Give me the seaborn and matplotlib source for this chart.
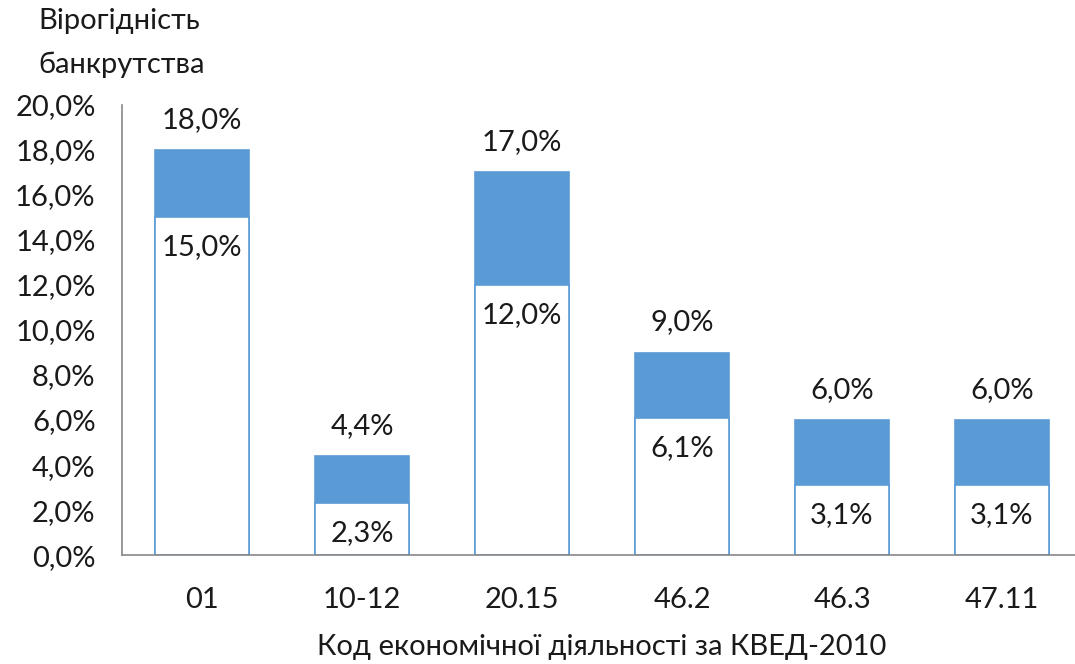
import matplotlib
matplotlib.use("Agg")
import matplotlib.pyplot as plt
import seaborn as sns
import pandas as pd

codes = ["01", "10-12", "20.15", "46.2", "46.3", "47.11"]
upper = [18.0, 4.4, 17.0, 9.0, 6.0, 6.0]
lower = [15.0, 2.3, 12.0, 6.1, 3.1, 3.1]
y_ticks = [0, 2, 4, 6, 8, 10, 12, 14, 16, 18, 20]

df = pd.DataFrame({"code": codes, "upper": upper, "lower": lower})

sns.set_style("white")
plt.rcParams['font.family'] = ['Lato', 'DejaVu Sans']

FS = 21
TXT = "#1a1a1a"
blue = "#5B9BD5"
fig = plt.figure(figsize=(10.75, 6.64), dpi=100)
ax = fig.add_axes([0.1135, 0.164, 0.893, 0.678])

sns.barplot(data=df, x="code", y="upper", color=blue, saturation=1, width=0.585,
            edgecolor=blue, linewidth=1.2, ax=ax)
sns.barplot(data=df, x="code", y="lower", color="white", saturation=1, width=0.585,
            edgecolor=blue, linewidth=1.2, ax=ax)

fmt = lambda v: f"{v:.1f}%".replace(".", ",")
for i, (u, l) in enumerate(zip(upper, lower)):
    ax.annotate(fmt(u), (i, u), xytext=(0, 30), textcoords="offset pixels",
                ha="center", va="center", fontsize=FS, color=TXT)
    ax.annotate(fmt(l), (i, l), xytext=(0, -30), textcoords="offset pixels",
                ha="center", va="center", fontsize=FS, color=TXT)

ax.set_ylim(0, 20)
ax.set_xlim(-0.5, 5.5)
ax.set_yticks(y_ticks)
ax.set_yticklabels([fmt(v) for v in y_ticks], fontsize=FS, color=TXT)
ax.set_xticks([i for i in range(len(codes))])
ax.set_xticklabels(codes, fontsize=FS, color=TXT)
ax.set_xticks([i - 0.5 for i in range(len(codes) + 1)], minor=True)
ax.tick_params(axis="x", which="major", length=0, pad=23)
ax.tick_params(axis="x", which="minor", length=8, width=1.2, color="#888888", direction="out")
ax.tick_params(axis="y", length=8, width=1.2, color="#888888", direction="out", pad=11)
ax.set_xlabel("Код економічної діяльності за КВЕД-2010", fontsize=FS, color=TXT, labelpad=15)
ax.set_ylabel("")
for s in ["top", "right"]:
    ax.spines[s].set_visible(False)
for s in ["left", "bottom"]:
    ax.spines[s].set_color("#888888")
    ax.spines[s].set_linewidth(1.2)

fig.text(38/1075, 1 - 21/664, "Вірогідність", fontsize=FS, color=TXT, va="center", ha="left")
fig.text(38/1075, 1 - 65/664, "банкрутства", fontsize=FS, color=TXT, va="center", ha="left")

fig.savefig("out.png", dpi=100)
